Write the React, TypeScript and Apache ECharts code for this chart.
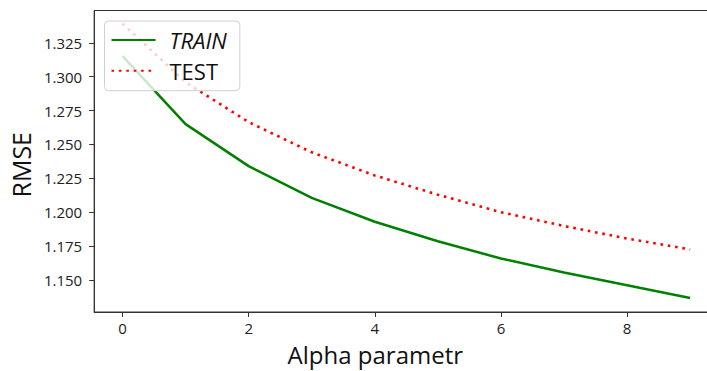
import React, { useEffect, useRef } from "react";
import * as echarts from "echarts";

const alphaValues = [0, 1, 2, 3, 4, 5, 6, 7, 8, 9];
const trainRmse = [1.3152, 1.265, 1.234, 1.2105, 1.1929, 1.1785, 1.1658, 1.1555, 1.1461, 1.1366];
const testRmse = [1.3392, 1.2959, 1.2665, 1.2442, 1.2271, 1.2129, 1.2, 1.1898, 1.1805, 1.1725];
const xTicks = [0, 2, 4, 6, 8];
const yTicks = [1.15, 1.175, 1.2, 1.225, 1.25, 1.275, 1.3, 1.325];

const FONT = "'Open Sans', 'DejaVu Sans', sans-serif";

export default function App() {
  const ref = useRef<HTMLDivElement>(null);
  useEffect(() => {
    if (!ref.current) return;
    const chart = echarts.init(ref.current, undefined, { renderer: "svg" });
    const axisColor = "#333";
    chart.setOption({
      animation: false,
      backgroundColor: "#fff",
      grid: {
        left: 94,
        top: 10.5,
        width: 624.5,
        height: 303.5,
        show: true,
        borderColor: axisColor,
        borderWidth: 1,
        backgroundColor: "transparent",
      },
      legend: {
        orient: "vertical",
        left: 104.5,
        top: 21,
        padding: [8, 13, 9, 6],
        itemWidth: 44,
        itemHeight: 22,
        itemGap: 8.7,
        backgroundColor: "rgba(255,255,255,0.8)",
        borderColor: "#d0d0d0",
        borderWidth: 1,
        borderRadius: 4,
        itemStyle: { color: "rgba(0,0,0,0)", borderWidth: 0, opacity: 0 },
        textStyle: {
          fontFamily: FONT,
          fontSize: 22,
          color: "#111",
          lineHeight: 22,
          padding: [0, 0, 0, 9],
        },
        data: [
          { name: "TRAIN", textStyle: { fontStyle: "italic" } },
          { name: "TEST" },
        ],
      },
      xAxis: {
        type: "value",
        min: -0.45,
        max: 9.45,
        name: "Alpha parametr",
        nameLocation: "middle",
        nameGap: 30,
        nameTextStyle: { fontFamily: FONT, fontSize: 24, color: "#111", padding: [0, 62, 0, 0] },
        splitLine: { show: false },
        axisLine: { show: true, onZero: false, lineStyle: { color: axisColor, width: 1 } },
        axisTick: { show: true, length: 5, customValues: xTicks, lineStyle: { color: axisColor } },
        axisLabel: {
          customValues: xTicks,
          margin: 8,
          fontFamily: FONT,
          fontSize: 15,
          color: "#222",
        },
      },
      yAxis: {
        type: "value",
        min: 1.1263,
        max: 1.3489,
        name: "RMSE",
        nameLocation: "middle",
        nameGap: 59,
        nameTextStyle: { fontFamily: FONT, fontSize: 25, color: "#111", padding: [0, 7, 0, 0] },
        splitLine: { show: false },
        axisLine: { show: true, onZero: false, lineStyle: { color: axisColor, width: 1 } },
        axisTick: { show: true, length: 5, customValues: yTicks, lineStyle: { color: axisColor } },
        axisLabel: {
          customValues: yTicks,
          margin: 12,
          fontFamily: FONT,
          fontSize: 15,
          color: "#222",
          formatter: (v: number) => v.toFixed(3),
        },
      },
      series: [
        {
          name: "TRAIN",
          type: "line",
          data: alphaValues.map((a, i) => [a, trainRmse[i]]),
          symbol: "none",
          color: "#008000",
          lineStyle: { color: "#008000", width: 2.5 },
          z: 2,
        },
        {
          name: "TEST",
          type: "line",
          data: alphaValues.map((a, i) => [a, testRmse[i]]),
          symbol: "none",
          color: "#ff0000",
          lineStyle: { color: "#ff0000", width: 2.6, type: [2.6, 4.8], cap: "butt" },
          z: 2,
        },
      ],
    });
    return () => chart.dispose();
  }, []);
  return (
    <div style={{ position: "fixed", left: 0, top: 0, width: 707, height: 371, overflow: "hidden", background: "#fff" }}>
      <div ref={ref} style={{ width: 720, height: 371 }} />
    </div>
  );
}
